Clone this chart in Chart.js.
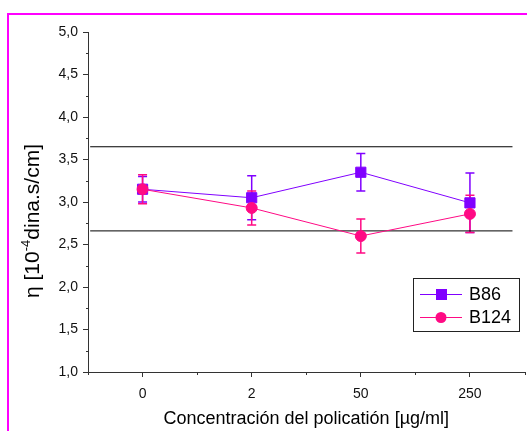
<!DOCTYPE html>
<html>
<head>
<meta charset="utf-8">
<script src="https://cdn.jsdelivr.net/npm/chart.js@4/dist/chart.umd.min.js"></script>
<style>
html,body{margin:0;padding:0;background:#fff;}
#wrap{width:527px;height:431px;position:relative;}
</style>
</head>
<body>
<div id="wrap"><canvas id="c" width="527" height="431"></canvas></div>
<script>
// ---- data ----
const categories = ['0', '2', '50', '250'];
const b86Values = [3.15, 3.05, 3.35, 2.99];
const b86Errors = [0.15, 0.26, 0.22, 0.35];
const b124Values = [3.15, 2.93, 2.60, 2.86];
const b124Errors = [0.17, 0.20, 0.20, 0.22];
const refLineLevels = [3.65, 2.66];
const refLineSpan = [-0.48, 3.39];
const yTickValues = [1.0, 1.5, 2.0, 2.5, 3.0, 3.5, 4.0, 4.5, 5.0];

const PURPLE = '#8000ff';
const PINK = '#ff0a84';
const FONT = '"Liberation Sans", Arial, sans-serif';

const toPts = (vals, errs) => vals.map((v, i) => ({x: i, y: v, e: errs[i]}));

const datasets = [
  {
    label: 'B124', data: toPts(b124Values, b124Errors), borderColor: PINK, backgroundColor: PINK,
    pointStyle: 'circle', pointRadius: 5.5, pointHoverRadius: 5.5, borderWidth: 1, showLine: true, order: 0
  },
  {
    label: 'B86', data: toPts(b86Values, b86Errors), borderColor: PURPLE, backgroundColor: PURPLE,
    pointStyle: 'rect', pointRadius: 7.2, pointHoverRadius: 7.2, borderWidth: 1, showLine: true, order: 1
  }
];
refLineLevels.forEach((lv, k) => {
  datasets.push({
    label: 'ref' + k, data: refLineSpan.map(x => ({x: x, y: lv})), borderColor: '#000',
    borderWidth: 1, pointRadius: 0, showLine: true, order: 3, isRef: true
  });
});

const frame = {
  id: 'frame',
  beforeDraw(chart) {
    const ctx = chart.ctx;
    ctx.save();
    ctx.strokeStyle = '#ff00ff';
    ctx.lineWidth = 2;
    ctx.beginPath();
    ctx.moveTo(8, 440); ctx.lineTo(8, 14); ctx.lineTo(540, 14);
    ctx.stroke();
    ctx.restore();
  }
};

const errorBars = {
  id: 'errorBars',
  beforeDatasetsDraw(chart) {
    const ctx = chart.ctx, xs = chart.scales.x, ys = chart.scales.y;
    ctx.save();
    [1, 0].forEach(di => {
      const ds = chart.data.datasets[di];
      ctx.strokeStyle = ds.borderColor;
      ctx.lineWidth = 1.5;
      ds.data.forEach(p => {
        const x = xs.getPixelForValue(p.x);
        const y1 = ys.getPixelForValue(p.y + p.e);
        const y2 = ys.getPixelForValue(p.y - p.e);
        ctx.beginPath();
        ctx.moveTo(x, y1); ctx.lineTo(x, y2);
        ctx.moveTo(x - 4.5, y1); ctx.lineTo(x + 4.5, y1);
        ctx.moveTo(x - 4.5, y2); ctx.lineTo(x + 4.5, y2);
        ctx.stroke();
      });
    });
    ctx.restore();
  }
};

const minorTicks = {
  id: 'minorTicks',
  afterDraw(chart) {
    const ctx = chart.ctx, xs = chart.scales.x, ys = chart.scales.y, a = chart.chartArea;
    ctx.save();
    ctx.strokeStyle = '#333';
    ctx.lineWidth = 1;
    ctx.beginPath();
    for (let i = 0; i < yTickValues.length - 1; i++) {
      const y = Math.round(ys.getPixelForValue(yTickValues[i] + 0.25)) + 0.5;
      ctx.moveTo(a.left - 2, y); ctx.lineTo(a.left, y);
    }
    for (let i = -0.5; i <= categories.length - 0.5; i += 1) {
      const x = Math.round(xs.getPixelForValue(i)) + 0.5;
      ctx.moveTo(x, a.bottom); ctx.lineTo(x, a.bottom + 3);
    }
    ctx.stroke();
    ctx.restore();
  }
};

const yTitle = {
  id: 'yTitle',
  afterDraw(chart) {
    const ctx = chart.ctx;
    ctx.save();
    ctx.translate(33, 221);
    ctx.rotate(-Math.PI / 2);
    ctx.fillStyle = '#000';
    ctx.textBaseline = 'middle';
    const big = '21px ' + FONT, small = '13px ' + FONT;
    const p1 = 'η [10', p2 = '-4', p3 = 'dina.s/cm]';
    ctx.font = big; const w1 = ctx.measureText(p1).width, w3 = ctx.measureText(p3).width;
    ctx.font = small; const w2 = ctx.measureText(p2).width;
    let x = -(w1 + w2 + w3) / 2;
    ctx.textAlign = 'left';
    ctx.font = big; ctx.fillText(p1, x, 0); x += w1;
    ctx.font = small; ctx.fillText(p2, x, -7); x += w2;
    ctx.font = big; ctx.fillText(p3, x, 0);
    ctx.restore();
  }
};

const legendBox = {
  id: 'legendBox',
  afterDraw(chart) {
    const ctx = chart.ctx;
    ctx.save();
    ctx.strokeStyle = '#222';
    ctx.lineWidth = 1;
    ctx.strokeRect(413.5, 278.5, 106, 53);
    const items = [chart.data.datasets[1], chart.data.datasets[0]];
    items.forEach((ds, k) => {
      const y = 294 + k * 23;
      ctx.strokeStyle = ds.borderColor;
      ctx.beginPath(); ctx.moveTo(420, y + 0.5); ctx.lineTo(462, y + 0.5); ctx.stroke();
      ctx.fillStyle = ds.backgroundColor;
      if (ds.pointStyle === 'rect') { ctx.fillRect(436, y - 5, 11, 11); }
      else { ctx.beginPath(); ctx.arc(441, y + 0.5, 5.5, 0, Math.PI * 2); ctx.fill(); }
      ctx.fillStyle = '#000';
      ctx.font = '18px ' + FONT;
      ctx.textBaseline = 'middle';
      ctx.fillText(ds.label, 469, y + 1);
    });
    ctx.restore();
  }
};

new Chart(document.getElementById('c'), {
  type: 'scatter',
  data: {datasets: datasets},
  options: {
    responsive: false,
    animation: false,
    devicePixelRatio: 1,
    layout: {autoPadding: false, padding: {top: 32, right: 2.5, left: 0, bottom: 0}},
    plugins: {legend: {display: false}, tooltip: {enabled: false}},
    elements: {line: {tension: 0}},
    scales: {
      x: {
        type: 'linear', min: -0.5, max: categories.length - 0.5,
        afterBuildTicks: s => { s.ticks = categories.map((c, i) => ({value: i})); },
        afterFit: s => { s.height = 59; s.paddingLeft = 0; s.paddingRight = 0; },
        ticks: {
          callback: v => categories[v], color: '#111', padding: 9,
          font: {family: FONT, size: 14}, maxRotation: 0, autoSkip: false
        },
        grid: {drawOnChartArea: false, drawTicks: true, tickLength: 5, tickColor: '#333'},
        border: {display: true, color: '#333', width: 1},
        title: {display: true, text: 'Concentración del policatión [µg/ml]', color: '#000',
          font: {family: FONT, size: 18}, padding: {top: 0, bottom: 1}}
      },
      y: {
        type: 'linear', min: 1, max: 5,
        afterBuildTicks: s => { s.ticks = yTickValues.map(v => ({value: v})); },
        afterFit: s => { s.width = 88; },
        ticks: {
          callback: v => v.toFixed(1).replace('.', ','), color: '#111', padding: 5,
          font: {family: FONT, size: 14}
        },
        grid: {drawOnChartArea: false, drawTicks: true, tickLength: 5, tickColor: '#333'},
        border: {display: true, color: '#333', width: 1}
      }
    }
  },
  plugins: [frame, errorBars, minorTicks, yTitle, legendBox]
});
</script>
</body>
</html>
